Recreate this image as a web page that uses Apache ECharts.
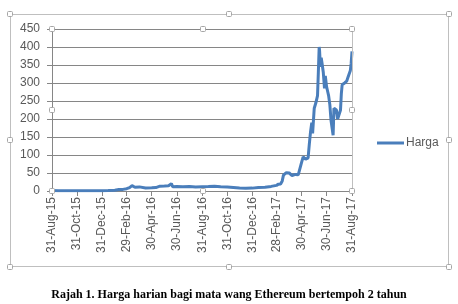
<!DOCTYPE html>
<html>
<head>
<meta charset="utf-8">
<script src="https://cdn.jsdelivr.net/npm/echarts@6/dist/echarts.min.js"></script>
<style>html,body{margin:0;padding:0;background:#fff;}#c{width:458px;height:304px;}</style>
</head>
<body>
<div id="c"></div>
<script>
// Tick labels shown on the date axis
const tickLabels = ['31-Aug-15','31-Oct-15','31-Dec-15','29-Feb-16','30-Apr-16','30-Jun-16','31-Aug-16','31-Oct-16','31-Dec-16','28-Feb-17','30-Apr-17','30-Jun-17','31-Aug-17'];
const dates = ['31-Aug-15','15-Sep-15','30-Sep-15','15-Oct-15','31-Oct-15','15-Nov-15','30-Nov-15','15-Dec-15','31-Dec-15',
'15-Jan-16','31-Jan-16','10-Feb-16','20-Feb-16','29-Feb-16','7-Mar-16','13-Mar-16','20-Mar-16','31-Mar-16','15-Apr-16','30-Apr-16',
'10-May-16','20-May-16','31-May-16','10-Jun-16','17-Jun-16','20-Jun-16','30-Jun-16','15-Jul-16','31-Jul-16','15-Aug-16','31-Aug-16',
'15-Sep-16','30-Sep-16','15-Oct-16','31-Oct-16','15-Nov-16','30-Nov-16','15-Dec-16','31-Dec-16',
'15-Jan-17','31-Jan-17','15-Feb-17','28-Feb-17','5-Mar-17','10-Mar-17','14-Mar-17','17-Mar-17','20-Mar-17','24-Mar-17','31-Mar-17',
'7-Apr-17','15-Apr-17','22-Apr-17','26-Apr-17','30-Apr-17','4-May-17','10-May-17','16-May-17','19-May-17','22-May-17','25-May-17','27-May-17','31-May-17',
'4-Jun-17','8-Jun-17','10-Jun-17','12-Jun-17','13-Jun-17','15-Jun-17','17-Jun-17','19-Jun-17','22-Jun-17','25-Jun-17','27-Jun-17','30-Jun-17',
'3-Jul-17','5-Jul-17','8-Jul-17','11-Jul-17','14-Jul-17','16-Jul-17','18-Jul-17','20-Jul-17','24-Jul-17','27-Jul-17','31-Jul-17',
'3-Aug-17','5-Aug-17','7-Aug-17','10-Aug-17','13-Aug-17','15-Aug-17','18-Aug-17','21-Aug-17','24-Aug-17','27-Aug-17','29-Aug-17','31-Aug-17'];
const prices = [1.35,0.95,0.73,0.55,1.0,0.9,0.87,0.97,0.93,
1.2,2.2,4.0,4.5,6.4,9.5,15,10.5,11.4,8.4,8.8,
9.5,13.5,14.0,14.5,20.5,11.8,12.5,11.8,12.5,11.0,12.0,
12.5,13.2,12.0,11.0,10.0,8.6,7.8,8.0,
9.8,10.7,12.8,15.7,19,19.5,28,44,42,51,50,
43,46,45,50,79,95,88,92,130,165,190,160,230,
245,265,330,400,390,345,370,355,330,285,320,290,
275,265,240,195,200,155,230,230,225,200,200,
225,270,295,300,300,295,305,315,325,335,355,388];

const MON = ['Jan','Feb','Mar','Apr','May','Jun','Jul','Aug','Sep','Oct','Nov','Dec'];
function fmt(t){const d=new Date(t);return d.getUTCDate()+'-'+MON[d.getUTCMonth()]+'-'+String(d.getUTCFullYear()).slice(2);}
const categories=[];
for(let t=Date.UTC(2015,7,31);t<=Date.UTC(2017,7,31);t+=86400000){categories.push(fmt(t));}
const tickSet=new Set(tickLabels);
const seriesData=dates.map((d,i)=>[d,prices[i]]);

const chart=echarts.init(document.getElementById('c'),null,{renderer:'canvas'});
const handles=[[10,14],[229,14],[449,14],[10,140],[449,140],[10,267],[229,267],[449,267],
[52,29],[203,29],[352,29],[52,110],[352,110],[52,191],[203,191],[352,191]];
const graphics=[
 {type:'rect',shape:{x:10.5,y:14.5,width:438,height:252},style:{fill:'none',stroke:'#BFBFBF',lineWidth:1},z:-1},
 {type:'line',shape:{x1:352.5,y1:29,x2:352.5,y2:191},style:{stroke:'#BFBFBF',lineWidth:1},z:10},
 {type:'text',left:'center',top:289,style:{text:'Rajah 1. Harga harian bagi mata wang Ethereum bertempoh 2 tahun',font:'bold 12px "Liberation Serif"',fill:'#000'}}
];
handles.forEach(h=>graphics.push({type:'rect',shape:{x:h[0]-2.5,y:h[1]-2.5,width:5,height:5,r:1},style:{fill:'#fff',stroke:'#A6A6A6',lineWidth:1},z:20}));

chart.setOption({
 animation:false,
 grid:{left:52,top:29,width:300,height:162,containLabel:false},
 legend:{data:['Harga'],left:372,top:132,icon:'rect',itemWidth:27,itemHeight:3,
   textStyle:{color:'#595959',fontSize:12,fontFamily:'Liberation Sans',padding:[0,0,0,-3]}},
 xAxis:{type:'category',data:categories,boundaryGap:false,
   axisLine:{lineStyle:{color:'#868686'}},
   axisTick:{interval:(i,v)=>tickSet.has(v),length:5,lineStyle:{color:'#868686'}},
   axisLabel:{interval:(i,v)=>tickSet.has(v),rotate:90,margin:6,color:'#595959',fontSize:12,fontFamily:'Liberation Sans'},
   splitLine:{show:false}},
 yAxis:{type:'value',min:0,max:450,interval:50,
   axisLine:{show:true,lineStyle:{color:'#868686'}},
   axisTick:{show:true,length:5,lineStyle:{color:'#868686'}},
   axisLabel:{margin:12,color:'#595959',fontSize:12,fontFamily:'Liberation Sans'},
   splitLine:{lineStyle:{color:'#868686',width:1}}},
 series:[{name:'Harga',type:'line',data:seriesData,showSymbol:false,symbol:'none',
   lineStyle:{color:'#4A7EBB',width:3},itemStyle:{color:'#4A7EBB'}}],
 graphic:graphics
});
</script>
</body>
</html>
